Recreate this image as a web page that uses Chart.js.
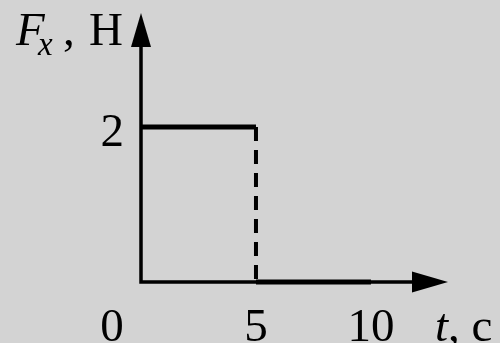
<!DOCTYPE html>
<html>
<head>
<meta charset="utf-8">
<script src="https://cdn.jsdelivr.net/npm/chart.js@4.4.0/dist/chart.umd.min.js"></script>
<style>
  html, body { margin: 0; padding: 0; background: #d3d3d3; }
  #wrap { width: 500px; height: 343px; }
</style>
</head>
<body>
<div id="wrap"><canvas id="forceChart" width="500" height="343"></canvas></div>
<script>
// F_x(t): 2 Н for the first 5 s, then 0 Н up to 10 s
const times = [0, 5, 5, 10];
const forces = [2, 2, 0, 0];
const xTicks = [0, 5, 10];
const yTicks = [2];
const xMax = 13.35;
const yMax = 3.47;

const serif = '"Liberation Serif", "Times New Roman", serif';

// one dataset per piece; the jump at t = 5 is dashed
const pieces = [];
for (let i = 0; i < times.length - 1; i++) {
    const jump = times[i] === times[i + 1];
    pieces.push({
        data: [{ x: times[i], y: forces[i] }, { x: times[i + 1], y: forces[i + 1] }],
        borderColor: '#000',
        borderWidth: jump ? 4 : 5,
        borderDash: jump ? [14, 9] : [],
        pointRadius: 0,
        tension: 0,
        fill: false,
        clip: false
    });
}

// axes with arrow heads, tick numbers and axis names
const axesPlugin = {
    id: 'axesPlugin',
    beforeDatasetsDraw(chart) {
        const c = chart.ctx;
        const xs = chart.scales.x, ys = chart.scales.y;
        const x0 = xs.getPixelForValue(0), y0 = ys.getPixelForValue(0);
        const xEnd = xs.getPixelForValue(xMax), yEnd = ys.getPixelForValue(yMax);
        c.save();
        c.strokeStyle = '#000';
        c.fillStyle = '#000';
        c.lineWidth = 3.5;
        c.beginPath();
        c.moveTo(x0, yEnd + 30);
        c.lineTo(x0, y0);
        c.lineTo(xEnd - 30, y0);
        c.stroke();

        // arrow heads
        c.beginPath();
        c.moveTo(x0, yEnd);
        c.lineTo(x0 - 10, yEnd + 34);
        c.lineTo(x0 + 10, yEnd + 34);
        c.closePath();
        c.fill();
        c.beginPath();
        c.moveTo(xEnd, y0);
        c.lineTo(xEnd - 36, y0 - 10.5);
        c.lineTo(xEnd - 36, y0 + 10.5);
        c.closePath();
        c.fill();

        c.font = '47px ' + serif;
        c.textBaseline = 'alphabetic';
        c.textAlign = 'center';
        xTicks.forEach(function (t) {
            let px = xs.getPixelForValue(t);
            if (t === 0) px -= 29;
            c.fillText(String(t), px, 341);
        });
        c.textAlign = 'right';
        yTicks.forEach(function (f) {
            c.fillText(String(f), 124, ys.getPixelForValue(f) + 19);
        });

        // F_x, Н
        c.textAlign = 'left';
        c.font = 'italic 47px ' + serif;
        c.fillText('F', 16, 45);
        c.font = 'italic 33px ' + serif;
        c.fillText('x', 38, 55);
        c.font = '47px ' + serif;
        c.fillText(',', 63, 45);
        c.fillText('Н', 89, 45);

        // t, с
        c.font = 'italic 47px ' + serif;
        c.fillText('t', 435, 341);
        c.font = '47px ' + serif;
        c.fillText(', с', 448, 341);
        c.restore();
    }
};

const ctx = document.getElementById('forceChart').getContext('2d');
const forceChart = new Chart(ctx, {
    type: 'line',
    data: { datasets: pieces },
    options: {
        responsive: false,
        animation: false,
        layout: { padding: { left: 141, top: 13, right: 52, bottom: 61 } },
        plugins: { legend: { display: false }, tooltip: { enabled: false } },
        scales: {
            x: { type: 'linear', min: 0, max: xMax, display: false },
            y: { type: 'linear', min: 0, max: yMax, display: false }
        }
    },
    plugins: [axesPlugin]
});
</script>
</body>
</html>
